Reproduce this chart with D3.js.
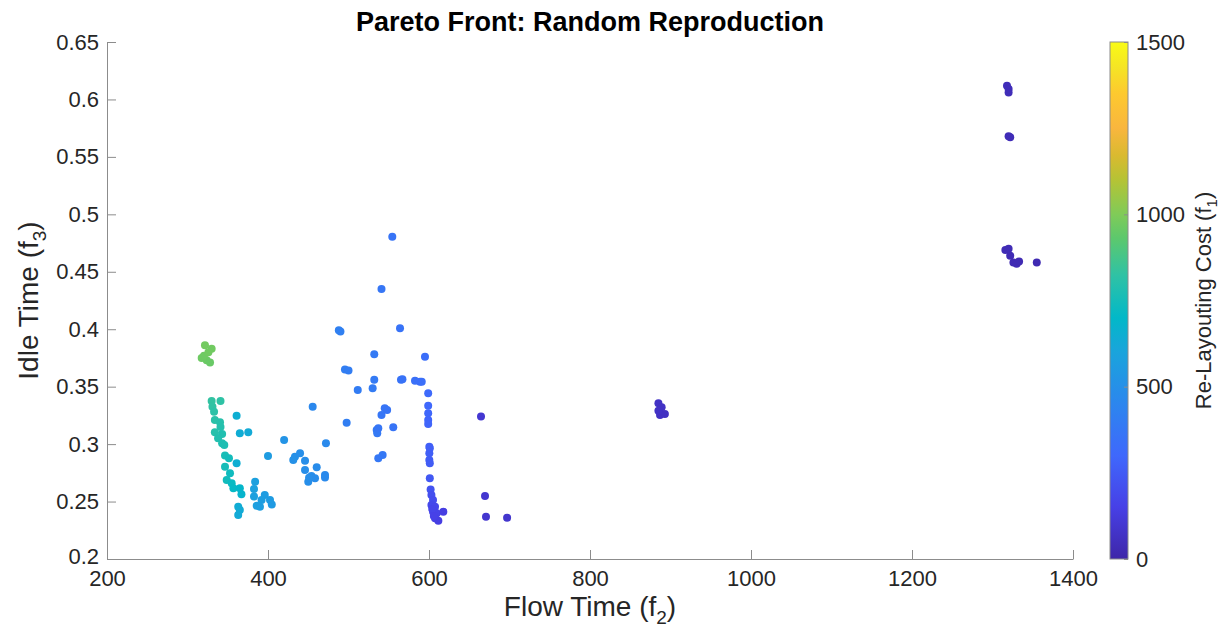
<!DOCTYPE html>
<html>
<head>
<meta charset="utf-8">
<title>Pareto Front: Random Reproduction</title>
<script src="https://d3js.org/d3.v7.min.js"></script>
<style>
body { margin: 0; background: #fff; }
svg text { font-family: "Liberation Sans", Arial, Helvetica, sans-serif; fill: #262626; }
.axis path, .axis line { stroke: #8c8c8c; }
</style>
</head>
<body>
<div id="chart"></div>
<script>
// flow time (f2), idle time (f3) and re-layouting cost (f1) of each solution
var flowTime = [
  321.7, 330, 317.6, 323.8, 328, 320.5, 326,
  330, 341, 331, 333, 334, 340.4, 341, 334, 343, 338, 343, 345.7, 346.6, 351.5, 346.6, 352.8, 348.7, 354.9, 357, 365, 367,
  363, 365, 363, 361, 365, 375.5, 361, 384, 382.6, 382.6, 396, 402.5, 392, 386, 390, 404.7, 400, 420,
  455.5, 472, 433.5, 439.8, 446, 431.4, 446, 460.5, 454, 450, 458.4, 470.8, 470.8, 451,
  495.6, 500, 488, 490, 532, 511.5, 530, 497.7, 535, 535.7, 537, 542.4, 554.4, 541, 564, 532, 595, 565.2, 567, 582.6, 588.8, 591, 545, 548, 541, 537, 555.6,
  599, 599, 599, 599, 599, 600.4, 600.4, 600.4, 601, 601, 601, 602, 603, 605, 603, 607.5, 605, 609.6, 617.8, 607.5, 611.6, 604, 606,
  664.6, 669.6, 670.8, 697,
  885, 889, 887, 893, 885,
  1318, 1320, 1320, 1320, 1322, 1316, 1320, 1322, 1326, 1330, 1333, 1355
];
var idleTime = [
  0.386, 0.383, 0.375, 0.373, 0.371, 0.377, 0.380,
  0.3375, 0.3375, 0.3326, 0.3282, 0.321, 0.319, 0.315, 0.3103, 0.3088, 0.305, 0.3007, 0.2992, 0.290, 0.2876, 0.2804, 0.2746, 0.2688, 0.266, 0.2615, 0.2615, 0.2563,
  0.2455, 0.2426, 0.2383, 0.3247, 0.3094, 0.3103, 0.2833, 0.2673, 0.261, 0.2543, 0.2557, 0.2513, 0.2513, 0.2464, 0.2455, 0.2475, 0.2897, 0.3036,
  0.3326, 0.3007, 0.289, 0.292, 0.2856, 0.2862, 0.2775, 0.2798, 0.2722, 0.2673, 0.2702, 0.2731, 0.271, 0.2708,
  0.365, 0.364, 0.399, 0.398, 0.356, 0.347, 0.3486, 0.3186, 0.3123, 0.3094, 0.2876, 0.2905, 0.4805, 0.435, 0.4008, 0.3782, 0.376, 0.356, 0.3564, 0.3552, 0.3543, 0.3543, 0.3312, 0.3297, 0.3253, 0.3138, 0.3146,
  0.3442, 0.3334, 0.3268, 0.321, 0.3175, 0.2978, 0.292, 0.2862, 0.2833, 0.2963, 0.2702, 0.2606, 0.2557, 0.2513, 0.247, 0.2455, 0.2412, 0.2398, 0.2412, 0.2354, 0.2333, 0.2435, 0.2375,
  0.324, 0.2548, 0.2368, 0.236,
  0.3355, 0.332, 0.3253, 0.3262, 0.329,
  0.612, 0.609, 0.606, 0.568, 0.567, 0.469, 0.470, 0.464, 0.458, 0.457, 0.459, 0.458
];
var cost = [
  975, 970, 965, 960, 955, 965, 970,
  830, 820, 825, 815, 810, 800, 795, 800, 785, 790, 780, 775, 760, 745, 755, 735, 740, 720, 710, 690, 680,
  640, 635, 630, 650, 640, 630, 650, 580, 585, 580, 560, 555, 565, 575, 570, 550, 560, 520,
  460, 470, 500, 495, 490, 505, 490, 480, 485, 490, 480, 470, 470, 488,
  410, 405, 420, 418, 390, 400, 395, 410, 385, 385, 380, 378, 360, 370, 355, 390, 330, 355, 352, 340, 335, 333, 365, 362, 368, 372, 360,
  310, 300, 295, 290, 288, 270, 265, 260, 255, 268, 240, 220, 205, 195, 185, 175, 165, 160, 140, 150, 140, 170, 155,
  100, 95, 95, 90,
  70, 68, 66, 64, 69,
  40, 40, 38, 36, 36, 32, 32, 30, 28, 28, 26, 24
];
var xTicks = [200, 400, 600, 800, 1000, 1200, 1400];
var yTicks = [0.2, 0.25, 0.3, 0.35, 0.4, 0.45, 0.5, 0.55, 0.6, 0.65];
var cTicks = [0, 500, 1000, 1500];

// parula-like colormap: cost value -> colour
var parulaAt = [0, 150, 300, 450, 600, 700, 825, 930, 1000, 1100, 1170, 1250, 1350, 1425, 1500];
var parulaCol = ["#3e26a8", "#4740e6", "#3f68fc", "#2c86ee", "#1aa4dc", "#02b8c8",
                 "#30c2a4", "#5cc86d", "#80cb58", "#b5c335", "#d9ba30", "#f9b63e",
                 "#fdc92f", "#f5e425", "#f9fb15"];

var W = 1224, H = 643;
var mLeft = 107, mRight = 1073, mTop = 42, mBottom = 559;

var svg = d3.select("#chart").append("svg")
    .attr("width", W)
    .attr("height", H);

var x = d3.scaleLinear().domain([200, 1400]).range([mLeft, mRight]);
var y = d3.scaleLinear().domain([0.2, 0.65]).range([mBottom, mTop]);
var color = d3.scaleLinear()
    .domain(parulaAt)
    .range(parulaCol)
    .clamp(true);

// axes, ticks pointing inward like matlab
var xAxis = svg.append("g")
    .attr("class", "axis")
    .attr("transform", "translate(0," + mBottom + ")")
    .call(d3.axisBottom(x).tickValues(xTicks).tickSizeInner(-9).tickSizeOuter(0)
        .tickFormat(d3.format("d")));
var yAxis = svg.append("g")
    .attr("class", "axis")
    .attr("transform", "translate(" + mLeft + ",0)")
    .call(d3.axisLeft(y).tickValues(yTicks).tickSizeInner(-9).tickSizeOuter(0)
        .tickFormat(function(d){ return String(+d.toFixed(2)); }));

svg.selectAll(".axis text").style("font-size", "22px");
xAxis.selectAll("text").attr("y", 11);
yAxis.selectAll("text").attr("x", -8);
// lowest y label sits just above the x labels, as in matlab
yAxis.selectAll(".tick").filter(function(d){ return d === 0.2; })
    .select("text").attr("dy", "0.2em");

// the points
var pts = flowTime.map(function(d, i){ return { f2: d, f3: idleTime[i], f1: cost[i] }; });
svg.append("g").selectAll("circle")
    .data(pts)
    .enter()
    .append("circle")
    .attr("cx", function(d){ return x(d.f2); })
    .attr("cy", function(d){ return y(d.f3); })
    .attr("r", 4)
    .attr("fill", function(d){ return color(d.f1); });

// title and labels
svg.append("text")
    .attr("x", (mLeft + mRight) / 2)
    .attr("y", 31)
    .attr("text-anchor", "middle")
    .style("font-size", "27px")
    .style("font-weight", "bold")
    .style("fill", "#000")
    .text("Pareto Front: Random Reproduction");

var xl = svg.append("text")
    .attr("x", (mLeft + mRight) / 2)
    .attr("y", 616)
    .attr("text-anchor", "middle")
    .style("font-size", "28px");
xl.append("tspan").text("Flow Time (f");
xl.append("tspan").attr("dy", 8).style("font-size", "19px").text("2");
xl.append("tspan").attr("dy", -8).text(")");

var yl = svg.append("text")
    .attr("transform", "translate(38," + (mTop + mBottom) / 2 + ") rotate(-90)")
    .attr("text-anchor", "middle")
    .style("font-size", "28px");
yl.append("tspan").text("Idle Time (f");
yl.append("tspan").attr("dy", 8).style("font-size", "19px").text("3");
yl.append("tspan").attr("dy", -8).text(")");

// colorbar
var cbX = 1110, cbW = 18;
var grad = svg.append("defs").append("linearGradient")
    .attr("id", "parula")
    .attr("x1", 0).attr("y1", 1).attr("x2", 0).attr("y2", 0);
grad.selectAll("stop")
    .data(parulaCol)
    .enter()
    .append("stop")
    .attr("offset", function(d, i){ return parulaAt[i] / 1500; })
    .attr("stop-color", function(d){ return d; });

var cy = d3.scaleLinear().domain([0, 1500]).range([mBottom, mTop]);
svg.append("rect")
    .attr("x", cbX).attr("y", mTop)
    .attr("width", cbW).attr("height", mBottom - mTop)
    .attr("fill", "url(#parula)")
    .attr("stroke", "#8c8c8c")
    .attr("stroke-width", 1);

var cAxis = svg.append("g")
    .attr("class", "axis")
    .attr("transform", "translate(" + (cbX + cbW) + ",0)")
    .call(d3.axisRight(cy).tickValues(cTicks).tickSizeInner(-4).tickSizeOuter(0).tickPadding(8)
        .tickFormat(d3.format("d")));
cAxis.select(".domain").remove();
cAxis.selectAll("text").style("font-size", "22px");

var cl = svg.append("text")
    .attr("transform", "translate(1211," + (mTop + mBottom) / 2 + ") rotate(-90)")
    .attr("text-anchor", "middle")
    .style("font-size", "22px");
cl.append("tspan").text("Re-Layouting Cost (f");
cl.append("tspan").attr("dy", 6).style("font-size", "15px").text("1");
cl.append("tspan").attr("dy", -6).text(")");
</script>
</body>
</html>
